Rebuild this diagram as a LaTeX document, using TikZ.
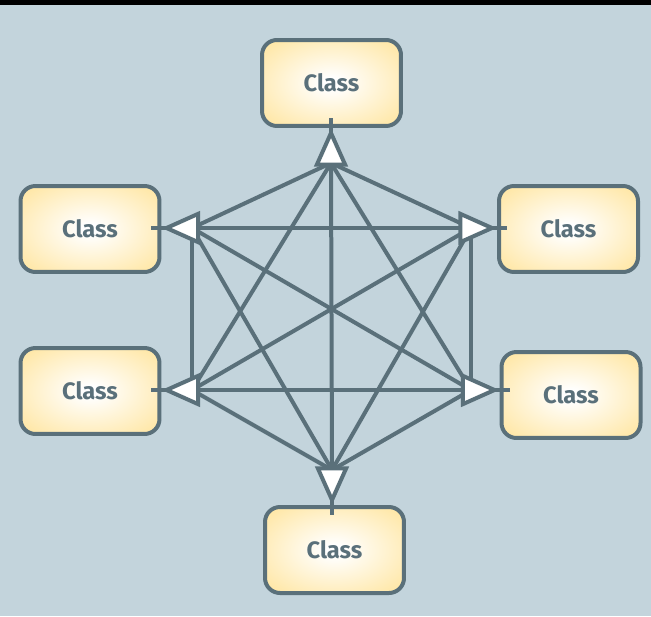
\documentclass[tikz,border=0pt]{standalone}
\usepackage{fontspec}
\setmainfont{Fira Sans}
\usetikzlibrary{arrows.meta,positioning,calc}
\definecolor{slate}{RGB}{90,112,122}
\definecolor{paper}{RGB}{195,212,220}
\definecolor{honey}{RGB}{255,228,155}
\pgfdeclareradialshading{glow}{\pgfpoint{0bp}{0bp}}{color(0bp)=(white); color(3bp)=(white); color(36bp)=(honey); color(50bp)=(honey)}
\tikzset{
  cls/.style={draw=slate,line width=0.08cm,rounded corners=0.3cm,shading=glow,minimum width=2.78cm,minimum height=1.72cm,font=\bfseries\fontsize{13.5}{15}\selectfont,text=slate},
  link/.style={draw=slate,line width=0.08cm},
  arr/.style={link,arrows={-Triangle[fill=white,length=22pt,width=19pt]}},
}
\begin{document}
\begin{tikzpicture}[x=0.02cm,y=0.02cm]
  % canvas
  \fill[paper] (0,0) rectangle (651,616);
  \fill[black] (0,610.5) rectangle (651,616);

  % classes
  \node[cls] (top) at (331.5,533) {Class};
  \node[cls] (ul) at (90,387) {Class};
  \node[cls] (ur) at (568.5,387) {Class};
  \node[cls] (ll) at (90,225) {Class};
  \node[cls] (lr) at (571,221) {Class};
  \node[cls] (bot) at (334.5,66) {Class};

  % hub points
  \coordinate (ht) at (331,453);
  \coordinate (hul) at (192,388);
  \coordinate (hur) at (471,388);
  \coordinate (hll) at (192,226);
  \coordinate (hlr) at (471,226);
  \coordinate (hb) at (332,146);

  % full mesh between hubs
  \foreach \a/\b in {ht/hul,ht/hur,ht/hll,ht/hlr,ht/hb,hul/hur,hul/hll,hul/hlr,hul/hb,
                     hur/hll,hur/hlr,hur/hb,hll/hlr,hll/hb,hlr/hb}
    \draw[link] (\a) -- (\b);

  % heads into the classes
  \foreach \h/\p in {ht/{top.south -| ht},hul/{ul.east |- hul},hur/{ur.west |- hur},
                     hll/{ll.east |- hll},hlr/{lr.west |- hlr},hb/{bot.north -| hb}}{
    \draw[link] ($(\p)!0.1cm!(\h)$) -- ($(\p)!-0.2cm!(\h)$);
    \draw[arr] (\h) -- (\p);
  }
\end{tikzpicture}
\end{document}
